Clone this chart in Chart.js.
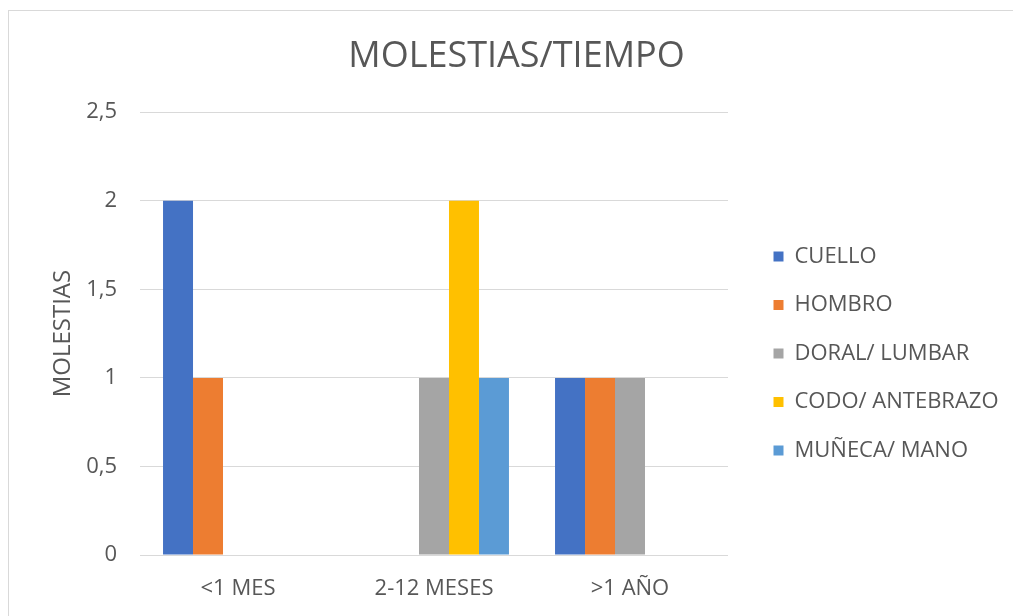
<!DOCTYPE html>
<html>
<head>
<meta charset="utf-8">
<script src="https://cdn.jsdelivr.net/npm/chart.js@4"></script>
<style>
  html, body { margin: 0; padding: 0; background: #fff; overflow: hidden; }
  #frame { position: absolute; left: 8px; top: 10px; width: 1020px; height: 640px; border: 1px solid #d9d9d9; }
  #wrap { position: absolute; left: 0; top: 0; width: 1013px; height: 616px; }
</style>
</head>
<body>
<div id="frame"></div>
<div id="wrap"><canvas id="myChart" width="1013" height="616"></canvas></div>
<script>
// data
var categories = ["<1 MES", "2-12 MESES", ">1 AÑO"];
var seriesNames = ["CUELLO", "HOMBRO", "DORAL/ LUMBAR", "CODO/ ANTEBRAZO", "MUÑECA/ MANO"];
var cuello = [2, 0, 1];
var hombro = [1, 0, 1];
var doralLumbar = [0, 1, 1];
var codoAntebrazo = [0, 2, 0];
var munecaMano = [0, 1, 0];
var yTicks = [0, 0.5, 1, 1.5, 2, 2.5];

var barColors = ["#4472c4", "#ed7d31", "#a5a5a5", "#ffc000", "#5b9bd5"];
var seriesValues = [cuello, hombro, doralLumbar, codoAntebrazo, munecaMano];
var textColor = "#575757";
var fontName = "'Open Sans', sans-serif";

var datasets = seriesNames.map(function (name, i) {
  return {
    label: name,
    data: seriesValues[i],
    backgroundColor: barColors[i],
    borderWidth: 0,
    categoryPercentage: 0.765,
    barPercentage: 1
  };
});

// keep the legend at a fixed place on the right, like the original
var legendPlace = {
  id: "legendPlace",
  beforeLayout: function (chart) {
    var lg = chart.legend;
    if (lg && !lg._fixed) {
      var fit = lg.fit;
      lg.fit = function () { fit.call(this); this.width = 256; };
      lg._fixed = true;
    }
  },
  afterLayout: function (chart) {
    var lg = chart.legend;
    lg.left = 747;
    lg.right = lg.left + lg.width;
    lg.top = 219;
    lg.bottom = 616;
  }
};

new Chart("myChart", {
  type: "bar",
  data: {
    labels: categories,
    datasets: datasets
  },
  plugins: [legendPlace],
  options: {
    responsive: false,
    animation: false,
    layout: { padding: { left: 49, right: 29, top: 10, bottom: 0 } },
    plugins: {
      title: {
        display: true,
        text: "MOLESTIAS/TIEMPO",
        color: textColor,
        font: { family: fontName, size: 36, weight: "normal" },
        padding: { top: 25, bottom: 34 }
      },
      legend: {
        position: "right",
        align: "start",
        labels: {
          color: textColor,
          font: { family: fontName, size: 22 },
          boxWidth: 10,
          boxHeight: 10,
          padding: 26.5
        }
      },
      tooltip: { enabled: false }
    },
    scales: {
      x: {
        grid: { display: false },
        border: { display: false },
        ticks: {
          color: textColor,
          font: { family: fontName, size: 22 },
          padding: 13
        },
        afterFit: function (scale) { scale.height = 61; }
      },
      y: {
        min: 0,
        max: 2.5,
        afterBuildTicks: function (scale) {
          scale.ticks = yTicks.map(function (v) { return { value: v }; });
        },
        grid: { color: "#d9d9d9", lineWidth: 1, drawTicks: false },
        border: { display: false },
        ticks: {
          color: textColor,
          font: { family: fontName, size: 22 },
          padding: 23,
          callback: function (value) { return String(value).replace(".", ","); }
        },
        title: {
          display: true,
          text: "MOLESTIAS",
          color: textColor,
          font: { family: fontName, size: 24 },
          padding: 0
        },
        afterFit: function (scale) { scale.width = 91; }
      }
    }
  }
});
</script>
</body>
</html>
